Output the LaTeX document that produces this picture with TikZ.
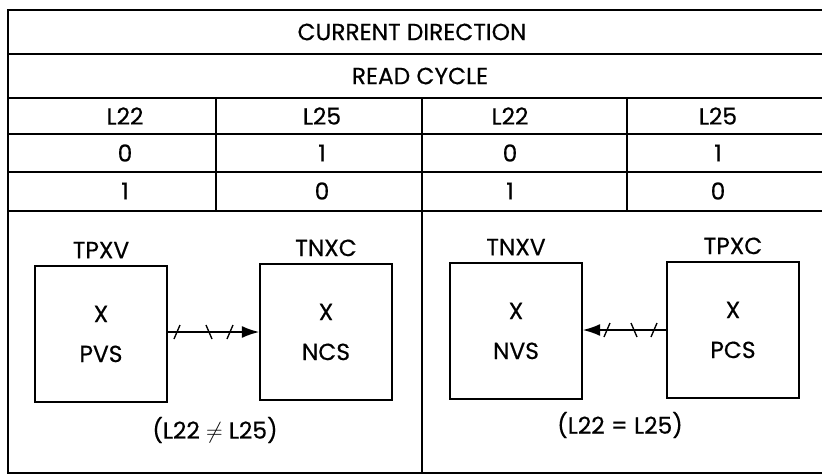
\documentclass[tikz,border=0pt]{standalone}
\usepackage{fontspec}
\setmainfont{Poppins}[FakeBold=0.5]
\usepackage{tikz}
\usetikzlibrary{arrows.meta,positioning,calc}

\begin{document}
\begin{tikzpicture}[
  x=0.75pt, y=-0.75pt,
  font=\fontsize{17.5}{21}\selectfont,
  major/.style={line width=1.9pt},
  minor/.style={line width=1.2pt},
  unit/.style={draw, line width=1.3pt, align=center, minimum width=99pt, minimum height=102pt},
  lab/.style={inner sep=1pt},
  flow/.style={line width=1.1pt, -{Latex[length=13pt, width=9pt]}},
  tick/.style={line width=1pt}
]
\useasboundingbox (0,0) rectangle (822,475);
% table frame
\draw[major] (822,10) -- (8,10) -- (8,473) -- (822,473);
\draw[major] (8,54) -- (822,54);
\draw[major] (8,98) -- (822,98);
\draw[minor] (8,134) -- (822,134);
\draw[minor] (8,172) -- (822,172);
\draw[major] (8,211) -- (822,211);
\draw[minor] (216,98) -- (216,211);
\draw[major] (422,98) -- (422,473);
\draw[minor] (627,98) -- (627,211);
% headings
\node[lab] (dir) at (412,32) {CURRENT DIRECTION};
\node[lab] (cyc) at (420,76) {READ CYCLE};
% columns
\foreach \x/\n/\h/\a/\b in {125/1/L22/0/1, 322/2/L25/1/0, 510/3/L22/0/1, 718/4/L25/1/0}{
  \node[lab] (h\n) at (\x,116) {\h};
  \node[lab] (a\n) at (\x,153) {\a};
  \node[lab] (b\n) at (\x,191) {\b};
}
% left half
\node[unit] (tpxv) at (101,334) {X\\[9pt]PVS};
\node[unit] (tnxc) at (326,332) {X\\[9pt]NCS};
\node[lab, above=4pt of tpxv] (tpxvl) {TPXV};
\node[lab, above=4pt of tnxc] (tnxcl) {TNXC};
\draw[flow] (tpxv.east |- 0,332) -- (tnxc.west |- 0,332);
\foreach \x/\s in {177/1, 209/-1, 230/1}
  \draw[tick] (\x-3*\s,339) -- (\x+3*\s,325);
\node[lab] (neq) at (215,430) {(L22 $\neq$ L25)};
% right half
\node[unit] (tnxv) at (516,331) {X\\[9pt]NVS};
\node[unit] (tpxc) at (733,330) {X\\[9pt]PCS};
\node[lab, above=4pt of tnxv] (tnxvl) {TNXV};
\node[lab, above=4pt of tpxc] (tpxcl) {TPXC};
\draw[flow] (tpxc.west |- 0,330) -- (tnxv.east |- 0,330);
\foreach \x/\s in {607/1, 634/-1, 654/1}
  \draw[tick] (\x-3*\s,337) -- (\x+3*\s,323);
\node[lab] (eq) at (620,425) {(L22 = L25)};
\end{tikzpicture}
\end{document}
